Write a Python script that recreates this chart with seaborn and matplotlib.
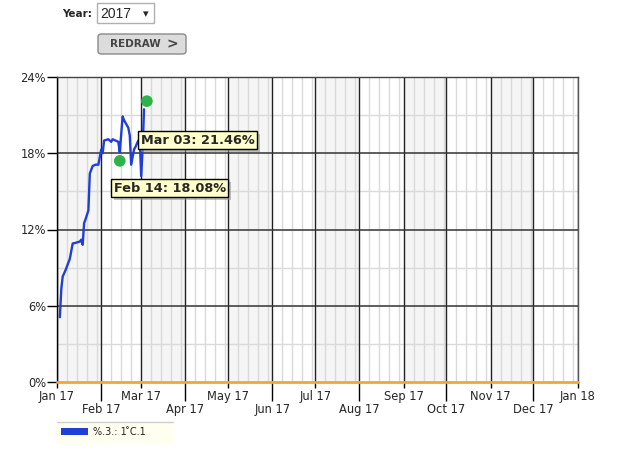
import pandas as pd
import numpy as np
import matplotlib.pyplot as plt
import seaborn as sns
from matplotlib.patches import FancyBboxPatch, Rectangle
from matplotlib.lines import Line2D
import matplotlib.patheffects as pe

## 数据
dates = ["2017-01-03", "2017-01-04", "2017-01-05", "2017-01-07", "2017-01-10",
         "2017-01-12", "2017-01-14", "2017-01-17", "2017-01-18", "2017-01-19",
         "2017-01-20", "2017-01-21", "2017-01-23", "2017-01-24", "2017-01-26",
         "2017-01-28", "2017-01-30", "2017-01-31", "2017-02-01", "2017-02-02",
         "2017-02-03", "2017-02-06", "2017-02-08", "2017-02-09", "2017-02-11",
         "2017-02-13", "2017-02-14", "2017-02-16", "2017-02-17", "2017-02-20",
         "2017-02-21", "2017-02-22", "2017-02-24", "2017-02-25", "2017-02-27",
         "2017-02-28", "2017-03-01", "2017-03-02", "2017-03-03"]
values = [5.1, 7.3, 8.3, 8.8, 9.7,
          10.9, 10.95, 11.05, 11.2, 10.8,
          12.5, 12.8, 13.5, 16.4, 17.0,
          17.1, 17.1, 17.7, 18.3, 18.0,
          19.0, 19.1, 18.9, 19.1, 19.0,
          18.9, 18.08, 20.9, 20.6, 20.0,
          19.4, 17.1, 18.3, 18.5, 19.0,
          19.1, 16.2, 18.3, 21.46]

baseline_dates = ["2017-01-01", "2018-01-01"]
baseline_vals = [0, 0]

dot_dates = ["2017-02-14", "2017-03-05"]
dot_vals = [17.4, 22.1]

tip_dates = ["2017-02-14", "2017-03-03"]
tip_vals = [18.08, 21.46]
tip_labels = ["Feb 14: 18.08%", "Mar 03: 21.46%"]

yticks = [0, 6, 12, 18, 24]
ytick_labels = ["0%", "6%", "12%", "18%", "24%"]

sns.set_style("white")
plt.rcParams['font.family'] = ['DejaVu Sans']

W, H = 625, 451
fig = plt.figure(figsize=(W / 100, H / 100), dpi=100)
ax = fig.add_axes([57 / W, 1 - 382 / H, (577.7 - 57) / W, (382 - 77) / H])

x0 = pd.Timestamp("2017-01-01")
x1 = pd.Timestamp("2018-01-01")
months = pd.date_range(x0, x1, freq="MS")

# 单数月份浅灰底
for i in range(0, 12, 2):
    ax.axvspan(months[i], months[i + 1], color="#f5f5f5", zorder=0, lw=0)

# 每周细线
for m in months[:-1]:
    for d in [8, 15, 22, 29]:
        t = m + pd.Timedelta(days=d - 1)
        if t.month == m.month:
            ax.axvline(t, color="#dadada", lw=1, zorder=0.5)
for m in months:
    ax.axvline(m, color="#222222", lw=1, zorder=1)

for v in [3, 9, 15, 21]:
    ax.axhline(v, color="#dadada", lw=1, zorder=0.5)
for v in [6, 12, 18]:
    ax.axhline(v, color="#333333", lw=1.1, zorder=1)

sns.lineplot(x=pd.to_datetime(dates), y=values, ax=ax, color="#1f3fd6", lw=1.7, zorder=3)
sns.lineplot(x=pd.to_datetime(baseline_dates), y=baseline_vals, ax=ax, color="#f0a830",
             lw=2, zorder=3, clip_on=False)
sns.scatterplot(x=pd.to_datetime(dot_dates), y=dot_vals, ax=ax, color="#2db34a", s=70,
                edgecolor="none", zorder=4)

offsets = [(-6, -36), (-3, -31)]
for d, v, lab, off in zip(tip_dates, tip_vals, tip_labels, offsets):
    t = ax.annotate(lab, xy=(pd.Timestamp(d), v), xytext=off, textcoords="offset pixels",
                    ha="left", va="center", fontsize=9.3, fontweight="bold", zorder=6,
                    bbox=dict(boxstyle="square,pad=0.2", fc="#ffffcc", ec="black", lw=1))
    t.get_bbox_patch().set_path_effects([pe.SimplePatchShadow(offset=(2, -2), shadow_rgbFace="#999999", alpha=0.6), pe.Normal()])

ax.set_xlim(x0, x1)
ax.set_ylim(0, 24)
ax.set_yticks(yticks)
ax.set_yticklabels(ytick_labels)
ax.tick_params(axis="y", length=7, width=1, pad=1, labelsize=8.3, color="black", left=True)

major = months[::2]
minor = months[1::2]
ax.set_xticks(major)
ax.set_xticklabels([m.strftime("%b %y") for m in major])
ax.set_xticks(minor, minor=True)
ax.set_xticklabels([m.strftime("%b %y") for m in minor], minor=True)
ax.tick_params(axis="x", which="major", length=4.3, width=1, pad=1.5, labelsize=8.3, bottom=True, color="black")
ax.tick_params(axis="x", which="minor", length=13.4, width=1, pad=1.5, labelsize=8.3, bottom=True, color="black")
ax.set_xlabel("")
ax.set_ylabel("")
ax.grid(False)

ax.spines["left"].set_color("black")
ax.spines["top"].set_color("#444444")
ax.spines["right"].set_color("#555555")
ax.spines["bottom"].set_visible(False)
for s in ["left", "top", "right"]:
    ax.spines[s].set_linewidth(1)


def fx(px):
    return px / W


def fy(py):
    return 1 - py / H


# 顶部控件
fig.text(fx(92), fy(14), "Year:", ha="right", va="center", fontsize=7.5, fontweight="bold")
fig.patches.append(FancyBboxPatch((fx(97), fy(23)), fx(57), 20 / H, boxstyle="square,pad=0",
                                  fc="white", ec="#b0b0b0", lw=1, transform=fig.transFigure))
fig.text(fx(100), fy(14), "2017", ha="left", va="center", fontsize=10, family="Liberation Sans")
fig.text(fx(146), fy(14), "▾", ha="center", va="center", fontsize=8)
fig.patches.append(FancyBboxPatch((fx(98), fy(54)), fx(88), 20 / H,
                                  boxstyle="round,pad=0,rounding_size=0.006",
                                  fc="#dcdcdc", ec="#8a8a8a", lw=1, transform=fig.transFigure))
fig.text(fx(110), fy(44), "REDRAW", ha="left", va="center", fontsize=7.5, fontweight="bold",
         color="#444444")
fig.text(fx(172), fy(44), ">", ha="center", va="center", fontsize=10, fontweight="bold",
         color="#444444")

# 图例
fig.patches.append(Rectangle((fx(57), fy(444)), fx(116), 22 / H, fc="#fffff0", ec="none",
                             transform=fig.transFigure))
fig.add_artist(Line2D([fx(57), fx(173)], [fy(422), fy(422)], color="#d0d0d0", lw=1))
fig.patches.append(Rectangle((fx(61), fy(435)), fx(27), 7 / H, fc="#1f3fd6", ec="none",
                             transform=fig.transFigure))
fig.text(fx(93), fy(432), "%.3.: 1 ̊C.1", ha="left", va="center", fontsize=7, color="#222222")

fig.savefig("out.png", dpi=100)
